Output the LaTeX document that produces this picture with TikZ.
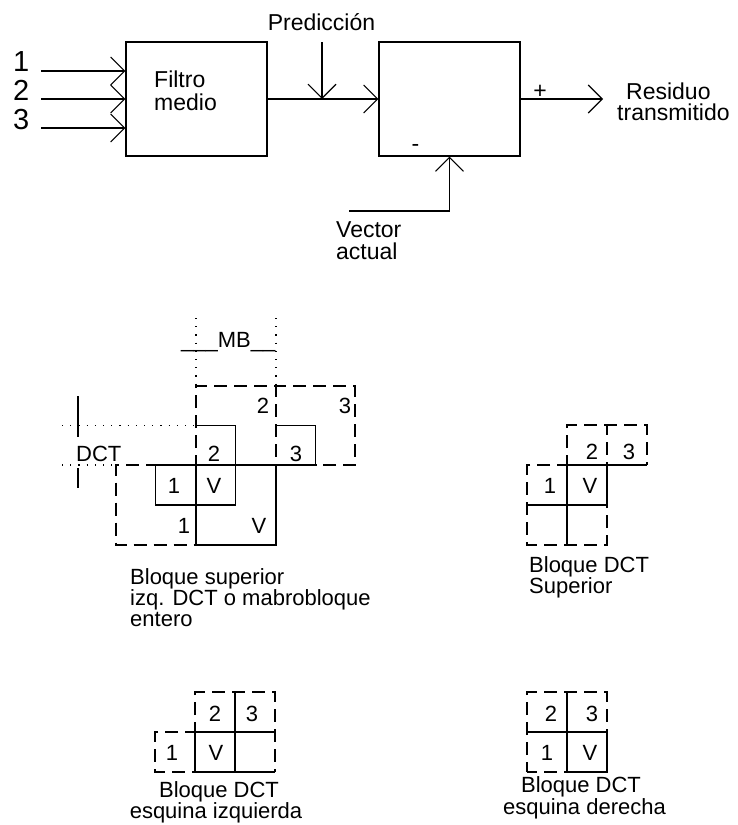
\documentclass[tikz,border=0pt]{standalone}
\usepackage{fontspec}
\setmainfont{Liberation Sans}
\usetikzlibrary{arrows.meta}
\begin{document}
\begin{tikzpicture}[x=1pt,y=-1pt,
  ln/.style={line width=1.1pt},
  dsh/.style={line width=1.1pt, dash pattern=on 13pt off 7pt, dash phase=3pt},
  dotl/.style={line width=1.3pt, dash pattern=on 1.2pt off 7pt},
  barl/.style={line width=1.5pt},
  arr/.style={ln, -{Straight Barb[length=14pt,width=28pt,line width=1.1pt]}},
  blk/.style={draw, ln, minimum width=141pt, minimum height=114pt, inner sep=0pt},
  ttop/.style={inner sep=0pt, font=\fontsize{23}{20}\selectfont},
  tbot/.style={inner sep=0pt, font=\fontsize{22}{20}\selectfont},
  lbl/.style={inner sep=0pt, anchor=base, font=\fontsize{22}{20}\selectfont},
  dig/.style={inner sep=0pt, anchor=base west, font=\fontsize{29}{29}\selectfont}]
\useasboundingbox (0,0) rectangle (737,825);

% ---------- top block diagram ----------
\node[blk] (filtro) at (196.5,99) {};
\node[ttop, anchor=base west] (tf1) at (154,87) {Filtro};
\node[ttop, anchor=base west] (tf2) at (154,110) {medio};
\node[blk] (resta) at (449.5,99) {};

\node[dig] (d1) at (13,71) {1};
\node[dig] (d2) at (13,100) {2};
\node[dig] (d3) at (13,129) {3};
\coordinate (i1) at (41,71);
\coordinate (i2) at (41,99);
\coordinate (i3) at (41,128);
\draw[arr] (i1) -- (i1 -| filtro.west);
\draw[arr] (i2) -- (i2 -| filtro.west);
\draw[arr] (i3) -- (i3 -| filtro.west);

\draw[arr] (filtro.east) -- (resta.west);
\node[ttop, anchor=base] (pred) at (321.5,30) {Predicción};
\coordinate (pt) at (322,42);
\coordinate (pj) at (322,99);
\draw[arr] (pt) -- (pj);

\coordinate (out) at (603,99);
\draw[arr] (resta.east) -- (out);
\node[ttop, anchor=base] (plus) at (540,98) {+};
\node[ttop, anchor=base] (minus) at (415.5,151) {-};
\node[ttop, anchor=base west] (res1) at (626,99) {Residuo};
\node[ttop, anchor=base west] (res2) at (617,120) {transmitido};

\node[ttop, anchor=base west] (v1) at (336,237) {Vector};
\node[ttop, anchor=base west] (v2) at (336,259) {actual};
\coordinate (vs) at (349,211);
\draw[arr] (vs) -| (resta.south);

% ---------- macroblock diagram ----------
\draw[dotl] (196,318) -- (196,386);
\draw[dotl] (276,318) -- (276,386);
\draw[dotl] (62,425.5) -- (194,425.5);
\draw[dotl] (62,465) -- (114,465);
\node[tbot, anchor=base west] (mb) at (181,347) {\_\_\_MB\_\_};
\draw[barl] (78,396) -- (78,437);
\draw[barl] (78,468) -- (78,488);
\node[tbot, anchor=base west] (dct) at (76,461) {DCT};

\draw[dsh] (196,465) -- (196,386) -- (276,386) -- (276,465);
\draw[dsh] (276,386) -- (355,386) -- (355,465) -- (315.5,465);
\draw[dsh] (155.5,465) -- (116,465) -- (116,545) -- (196,545);
\draw[ln] (155.5,465) -- (315.5,465);
\draw[ln] (196,465) -- (196,545) -- (276,545) -- (276,465);
\draw[ln] (196,425.5) -- (235.5,425.5) -- (235.5,505) -- (155.5,505) -- (155.5,465);
\draw[ln] (276,425.5) -- (315.5,425.5) -- (315.5,465);

\node[lbl] (a2) at (263,413) {2};
\node[lbl] (a3) at (345,413) {3};
\node[lbl] (b2) at (214,461) {2};
\node[lbl] (b3) at (296,461) {3};
\node[lbl] (b1) at (174,493) {1};
\node[lbl] (bv) at (214,493) {V};
\node[lbl] (c1) at (184,533) {1};
\node[lbl] (cv) at (259,533) {V};

\node[tbot, anchor=base west] (ca1) at (130,584) {Bloque superior};
\node[tbot, anchor=base west] (ca2) at (130,605) {izq. DCT o mabrobloque};
\node[tbot, anchor=base west] (ca3) at (130,626) {entero};

% ---------- Bloque DCT Superior ----------
\draw[dsh] (567,465) -- (567,425) -- (647,425) -- (647,465);
\draw[dsh] (607,425) -- (607,465);
\draw[dsh] (567,465) -- (527,465) -- (527,545) -- (607,545) -- (607,505);
\draw[ln] (567,465) -- (647,465);
\draw[ln] (607,465) -- (607,505);
\draw[ln] (567,465) -- (567,545);
\draw[ln] (527,505) -- (607,505);
\node[lbl] (s2) at (592,459) {2};
\node[lbl] (s3) at (629,459) {3};
\node[lbl] (s1) at (550,493) {1};
\node[lbl] (sv) at (590,493) {V};
\node[tbot, anchor=base west] (cs1) at (529,572) {Bloque DCT};
\node[tbot, anchor=base west] (cs2) at (529,593) {Superior};

% ---------- Bloque DCT esquina izquierda ----------
\draw[dsh] (195,732) -- (195,692) -- (275,692) -- (275,772);
\draw[dsh] (195,732) -- (155,732) -- (155,772) -- (195,772);
\draw[ln] (235,692) -- (235,772);
\draw[ln] (195,732) -- (275,732);
\draw[ln] (235,772) -- (275,772);
\draw[line width=1.5pt] (195,732) rectangle (235,772);
\node[lbl] (l2) at (215,721) {2};
\node[lbl] (l3) at (252,721) {3};
\node[lbl] (l1) at (172,760) {1};
\node[lbl] (lv) at (216,760) {V};
\node[tbot, anchor=base] (cl1) at (219,797) {Bloque DCT};
\node[tbot, anchor=base] (cl2) at (216,818) {esquina izquierda};

% ---------- Bloque DCT esquina derecha ----------
\draw[dsh] (527,772) -- (527,692) -- (607,692) -- (607,732);
\draw[dsh] (527,772) -- (567,772);
\draw[ln] (567,692) -- (567,772) -- (607,772) -- (607,732);
\draw[ln] (527,732) -- (607,732);
\node[lbl] (r2) at (551,721) {2};
\node[lbl] (r3) at (592,721) {3};
\node[lbl] (r1) at (547,760) {1};
\node[lbl] (rv) at (590,760) {V};
\node[tbot, anchor=base] (cr1) at (581,792) {Bloque DCT};
\node[tbot, anchor=base] (cr2) at (584.5,814) {esquina derecha};
\end{tikzpicture}
\end{document}
